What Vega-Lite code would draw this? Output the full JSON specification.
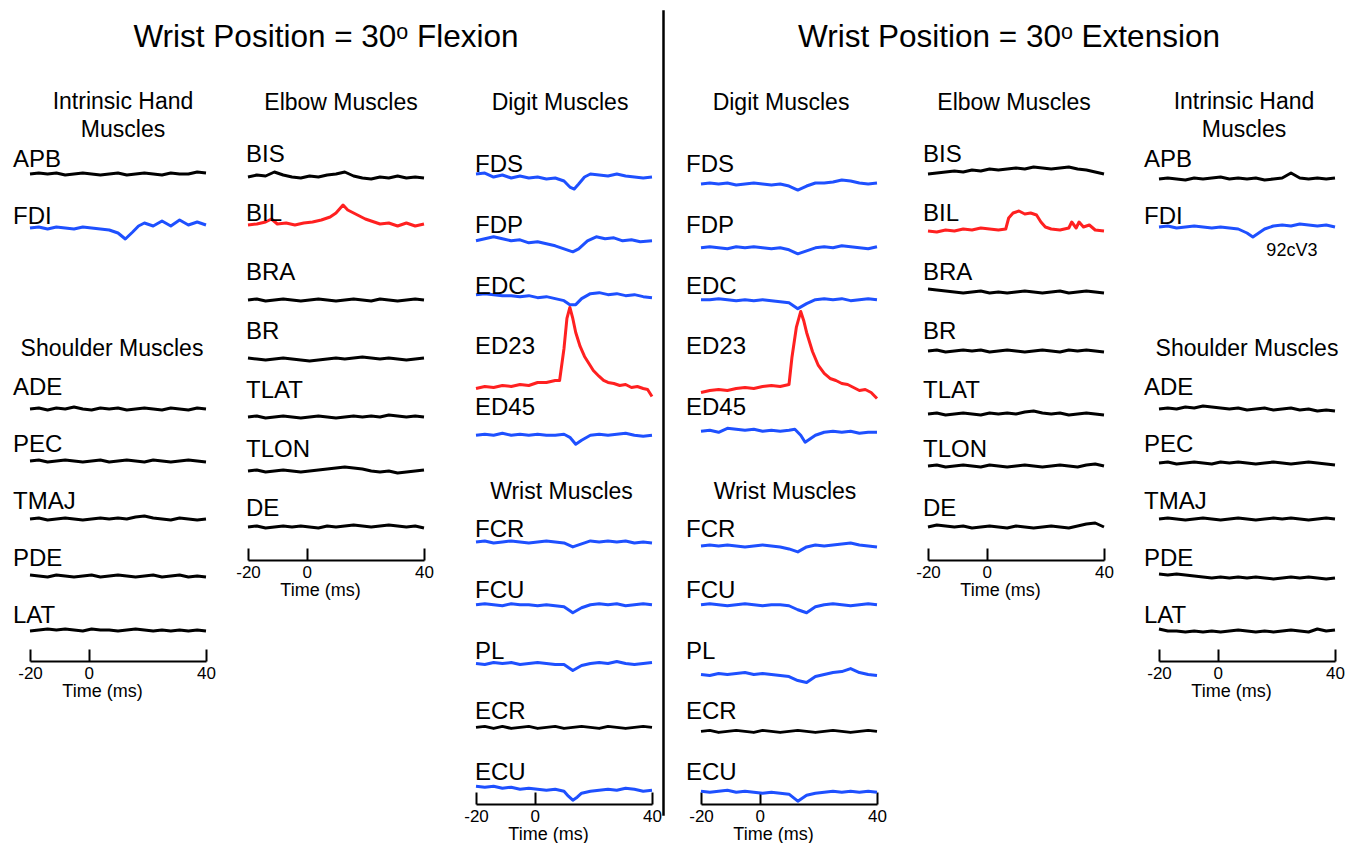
{
"$schema":"https://vega.github.io/schema/vega-lite/v6.json",
"background":"white",
"padding":{"left":13,"top":8,"right":0,"bottom":0},
"config":{
 "view":{"stroke":null},
 "font":"Liberation Sans",
 "title":{"font":"Liberation Sans","fontSize":23,"fontWeight":"normal","color":"#000","lineHeight":28,"anchor":"middle"},
 "text":{"font":"Liberation Sans","color":"#000"},
 "axisX":{"domainColor":"#000","domainWidth":2,"tickColor":"#000","tickWidth":2,"tickSize":-12,"labelFont":"Liberation Sans","labelFontSize":17,"labelColor":"#000","labelPadding":16,"labelFlush":false,"labelOverlap":false,"labelExpr":"'' + datum.value","titleFont":"Liberation Sans","titleFontSize":18,"titleFontWeight":"normal","titleColor":"#000","titlePadding":1,"titleX":72,"grid":false}
},
"datasets":{
"muscles":[
{"g":"Intrinsic Hand","m":"APB","e":"none"},{"g":"Intrinsic Hand","m":"FDI","e":"suppression"},
{"g":"Shoulder","m":"ADE","e":"none"},{"g":"Shoulder","m":"PEC","e":"none"},{"g":"Shoulder","m":"TMAJ","e":"none"},{"g":"Shoulder","m":"PDE","e":"none"},{"g":"Shoulder","m":"LAT","e":"none"},
{"g":"Elbow","m":"BIS","e":"none"},{"g":"Elbow","m":"BIL","e":"facilitation"},{"g":"Elbow","m":"BRA","e":"none"},{"g":"Elbow","m":"BR","e":"none"},{"g":"Elbow","m":"TLAT","e":"none"},{"g":"Elbow","m":"TLON","e":"none"},{"g":"Elbow","m":"DE","e":"none"},
{"g":"Digit","m":"FDS","e":"suppression"},{"g":"Digit","m":"FDP","e":"suppression"},{"g":"Digit","m":"EDC","e":"suppression"},{"g":"Digit","m":"ED23","e":"facilitation"},{"g":"Digit","m":"ED45","e":"suppression"},
{"g":"Wrist","m":"FCR","e":"suppression"},{"g":"Wrist","m":"FCU","e":"suppression"},{"g":"Wrist","m":"PL","e":"suppression"},{"g":"Wrist","m":"ECR","e":"none"},{"g":"Wrist","m":"ECU","e":"suppression"}
],
"headers":[{"m":"Shoulder Muscles"},{"m":"Wrist Muscles"}],
"notes":[{"m":"FDI","id":"92cV3"}],
"flex":[
{"m":"APB","t":-20,"v":3},{"m":"APB","t":-17,"v":4},{"m":"APB","t":-14,"v":3},{"m":"APB","t":-11,"v":4},{"m":"APB","t":-8,"v":2},{"m":"APB","t":-5,"v":3},{"m":"APB","t":-2,"v":4},{"m":"APB","t":1,"v":3},{"m":"APB","t":4,"v":2},{"m":"APB","t":7,"v":3},{"m":"APB","t":10,"v":4},{"m":"APB","t":13,"v":2},{"m":"APB","t":16,"v":3},{"m":"APB","t":19,"v":4},{"m":"APB","t":22,"v":3},{"m":"APB","t":25,"v":2},{"m":"APB","t":28,"v":4},{"m":"APB","t":31,"v":3},{"m":"APB","t":34,"v":3},{"m":"APB","t":37,"v":5},{"m":"APB","t":40,"v":4},
{"m":"FDI","t":-20,"v":6},{"m":"FDI","t":-17,"v":7},{"m":"FDI","t":-14,"v":5},{"m":"FDI","t":-11,"v":7},{"m":"FDI","t":-8,"v":6},{"m":"FDI","t":-5,"v":5},{"m":"FDI","t":-2,"v":7},{"m":"FDI","t":1,"v":6},{"m":"FDI","t":4,"v":5},{"m":"FDI","t":7,"v":4},{"m":"FDI","t":10,"v":1},{"m":"FDI","t":12.5,"v":-5},{"m":"FDI","t":15,"v":2},{"m":"FDI","t":17,"v":8},{"m":"FDI","t":19,"v":11},{"m":"FDI","t":22,"v":8},{"m":"FDI","t":25,"v":13},{"m":"FDI","t":28,"v":8},{"m":"FDI","t":31,"v":14},{"m":"FDI","t":34,"v":9},{"m":"FDI","t":37,"v":12},{"m":"FDI","t":40,"v":9},
{"m":"ADE","t":-20,"v":-4},{"m":"ADE","t":-17,"v":-3},{"m":"ADE","t":-14,"v":-5},{"m":"ADE","t":-11,"v":-3},{"m":"ADE","t":-8,"v":-4},{"m":"ADE","t":-5,"v":-2},{"m":"ADE","t":-2,"v":-4},{"m":"ADE","t":1,"v":-5},{"m":"ADE","t":4,"v":-3},{"m":"ADE","t":7,"v":-4},{"m":"ADE","t":10,"v":-3},{"m":"ADE","t":13,"v":-5},{"m":"ADE","t":16,"v":-4},{"m":"ADE","t":19,"v":-3},{"m":"ADE","t":22,"v":-4},{"m":"ADE","t":25,"v":-5},{"m":"ADE","t":28,"v":-3},{"m":"ADE","t":31,"v":-4},{"m":"ADE","t":34,"v":-5},{"m":"ADE","t":37,"v":-3},{"m":"ADE","t":40,"v":-4},
{"m":"PEC","t":-20,"v":1},{"m":"PEC","t":-17,"v":2},{"m":"PEC","t":-14,"v":0},{"m":"PEC","t":-11,"v":1},{"m":"PEC","t":-8,"v":2},{"m":"PEC","t":-5,"v":1},{"m":"PEC","t":-2,"v":0},{"m":"PEC","t":1,"v":1},{"m":"PEC","t":4,"v":2},{"m":"PEC","t":7,"v":0},{"m":"PEC","t":10,"v":1},{"m":"PEC","t":13,"v":2},{"m":"PEC","t":16,"v":1},{"m":"PEC","t":19,"v":0},{"m":"PEC","t":22,"v":2},{"m":"PEC","t":25,"v":1},{"m":"PEC","t":28,"v":0},{"m":"PEC","t":31,"v":1},{"m":"PEC","t":34,"v":2},{"m":"PEC","t":37,"v":1},{"m":"PEC","t":40,"v":0},
{"m":"TMAJ","t":-20,"v":0},{"m":"TMAJ","t":-17,"v":1},{"m":"TMAJ","t":-14,"v":-1},{"m":"TMAJ","t":-11,"v":0},{"m":"TMAJ","t":-8,"v":1},{"m":"TMAJ","t":-5,"v":0},{"m":"TMAJ","t":-2,"v":-1},{"m":"TMAJ","t":1,"v":0},{"m":"TMAJ","t":4,"v":1},{"m":"TMAJ","t":7,"v":0},{"m":"TMAJ","t":10,"v":1},{"m":"TMAJ","t":13,"v":0},{"m":"TMAJ","t":16,"v":2},{"m":"TMAJ","t":19,"v":3},{"m":"TMAJ","t":22,"v":1},{"m":"TMAJ","t":25,"v":0},{"m":"TMAJ","t":28,"v":-1},{"m":"TMAJ","t":31,"v":1},{"m":"TMAJ","t":34,"v":0},{"m":"TMAJ","t":37,"v":-1},{"m":"TMAJ","t":40,"v":0},
{"m":"PDE","t":-20,"v":1},{"m":"PDE","t":-17,"v":0},{"m":"PDE","t":-14,"v":-1},{"m":"PDE","t":-11,"v":1},{"m":"PDE","t":-8,"v":0},{"m":"PDE","t":-5,"v":-1},{"m":"PDE","t":-2,"v":0},{"m":"PDE","t":1,"v":1},{"m":"PDE","t":4,"v":-1},{"m":"PDE","t":7,"v":0},{"m":"PDE","t":10,"v":1},{"m":"PDE","t":13,"v":0},{"m":"PDE","t":16,"v":-1},{"m":"PDE","t":19,"v":0},{"m":"PDE","t":22,"v":1},{"m":"PDE","t":25,"v":-1},{"m":"PDE","t":28,"v":0},{"m":"PDE","t":31,"v":1},{"m":"PDE","t":34,"v":-1},{"m":"PDE","t":37,"v":0},{"m":"PDE","t":40,"v":-1},
{"m":"LAT","t":-20,"v":2},{"m":"LAT","t":-17,"v":3},{"m":"LAT","t":-14,"v":4},{"m":"LAT","t":-11,"v":3},{"m":"LAT","t":-8,"v":4},{"m":"LAT","t":-5,"v":3},{"m":"LAT","t":-2,"v":2},{"m":"LAT","t":1,"v":4},{"m":"LAT","t":4,"v":3},{"m":"LAT","t":7,"v":3},{"m":"LAT","t":10,"v":2},{"m":"LAT","t":13,"v":3},{"m":"LAT","t":16,"v":4},{"m":"LAT","t":19,"v":3},{"m":"LAT","t":22,"v":2},{"m":"LAT","t":25,"v":3},{"m":"LAT","t":28,"v":2},{"m":"LAT","t":31,"v":3},{"m":"LAT","t":34,"v":2},{"m":"LAT","t":37,"v":3},{"m":"LAT","t":40,"v":2},
{"m":"BIS","t":-20,"v":-5},{"m":"BIS","t":-17,"v":-3},{"m":"BIS","t":-14,"v":-4},{"m":"BIS","t":-11,"v":0},{"m":"BIS","t":-8,"v":-3},{"m":"BIS","t":-5,"v":-5},{"m":"BIS","t":-2,"v":-6},{"m":"BIS","t":1,"v":-4},{"m":"BIS","t":4,"v":-5},{"m":"BIS","t":7,"v":-3},{"m":"BIS","t":10,"v":-2},{"m":"BIS","t":13,"v":0},{"m":"BIS","t":16,"v":-4},{"m":"BIS","t":19,"v":-6},{"m":"BIS","t":22,"v":-7},{"m":"BIS","t":25,"v":-5},{"m":"BIS","t":28,"v":-6},{"m":"BIS","t":31,"v":-4},{"m":"BIS","t":34,"v":-6},{"m":"BIS","t":37,"v":-5},{"m":"BIS","t":40,"v":-6},
{"m":"BIL","t":-20,"v":6},{"m":"BIL","t":-17,"v":7},{"m":"BIL","t":-14,"v":9},{"m":"BIL","t":-12,"v":12},{"m":"BIL","t":-10,"v":7},{"m":"BIL","t":-7,"v":8},{"m":"BIL","t":-4,"v":6},{"m":"BIL","t":-1,"v":8},{"m":"BIL","t":2,"v":9},{"m":"BIL","t":5,"v":11},{"m":"BIL","t":8,"v":14},{"m":"BIL","t":10,"v":18},{"m":"BIL","t":12.4,"v":26},{"m":"BIL","t":14,"v":21},{"m":"BIL","t":16,"v":18},{"m":"BIL","t":18,"v":15},{"m":"BIL","t":20,"v":12},{"m":"BIL","t":22,"v":10},{"m":"BIL","t":25,"v":7},{"m":"BIL","t":28,"v":8},{"m":"BIL","t":31,"v":5},{"m":"BIL","t":34,"v":8},{"m":"BIL","t":37,"v":5},{"m":"BIL","t":40,"v":7},
{"m":"BRA","t":-20,"v":-10},{"m":"BRA","t":-17,"v":-9},{"m":"BRA","t":-14,"v":-11},{"m":"BRA","t":-11,"v":-10},{"m":"BRA","t":-8,"v":-9},{"m":"BRA","t":-5,"v":-10},{"m":"BRA","t":-2,"v":-11},{"m":"BRA","t":1,"v":-10},{"m":"BRA","t":4,"v":-9},{"m":"BRA","t":7,"v":-10},{"m":"BRA","t":10,"v":-11},{"m":"BRA","t":13,"v":-10},{"m":"BRA","t":16,"v":-9},{"m":"BRA","t":19,"v":-10},{"m":"BRA","t":22,"v":-11},{"m":"BRA","t":25,"v":-9},{"m":"BRA","t":28,"v":-10},{"m":"BRA","t":31,"v":-11},{"m":"BRA","t":34,"v":-10},{"m":"BRA","t":37,"v":-9},{"m":"BRA","t":40,"v":-10},
{"m":"BR","t":-20,"v":-9},{"m":"BR","t":-17,"v":-10},{"m":"BR","t":-14,"v":-11},{"m":"BR","t":-11,"v":-10},{"m":"BR","t":-8,"v":-9},{"m":"BR","t":-5,"v":-10},{"m":"BR","t":-2,"v":-11},{"m":"BR","t":1,"v":-12},{"m":"BR","t":4,"v":-11},{"m":"BR","t":7,"v":-10},{"m":"BR","t":10,"v":-9},{"m":"BR","t":13,"v":-10},{"m":"BR","t":16,"v":-9},{"m":"BR","t":19,"v":-8},{"m":"BR","t":22,"v":-9},{"m":"BR","t":25,"v":-10},{"m":"BR","t":28,"v":-9},{"m":"BR","t":31,"v":-10},{"m":"BR","t":34,"v":-11},{"m":"BR","t":37,"v":-10},{"m":"BR","t":40,"v":-9},
{"m":"TLAT","t":-20,"v":-9},{"m":"TLAT","t":-17,"v":-8},{"m":"TLAT","t":-14,"v":-10},{"m":"TLAT","t":-11,"v":-9},{"m":"TLAT","t":-8,"v":-8},{"m":"TLAT","t":-5,"v":-9},{"m":"TLAT","t":-2,"v":-10},{"m":"TLAT","t":1,"v":-9},{"m":"TLAT","t":4,"v":-8},{"m":"TLAT","t":7,"v":-9},{"m":"TLAT","t":10,"v":-10},{"m":"TLAT","t":13,"v":-9},{"m":"TLAT","t":16,"v":-8},{"m":"TLAT","t":19,"v":-9},{"m":"TLAT","t":22,"v":-8},{"m":"TLAT","t":25,"v":-9},{"m":"TLAT","t":28,"v":-7},{"m":"TLAT","t":31,"v":-8},{"m":"TLAT","t":34,"v":-9},{"m":"TLAT","t":37,"v":-8},{"m":"TLAT","t":40,"v":-9},
{"m":"TLON","t":-20,"v":-4},{"m":"TLON","t":-17,"v":-3},{"m":"TLON","t":-14,"v":-5},{"m":"TLON","t":-11,"v":-4},{"m":"TLON","t":-8,"v":-3},{"m":"TLON","t":-5,"v":-4},{"m":"TLON","t":-2,"v":-5},{"m":"TLON","t":1,"v":-4},{"m":"TLON","t":4,"v":-3},{"m":"TLON","t":7,"v":-2},{"m":"TLON","t":10,"v":-1},{"m":"TLON","t":13,"v":0},{"m":"TLON","t":16,"v":-1},{"m":"TLON","t":19,"v":-2},{"m":"TLON","t":22,"v":-4},{"m":"TLON","t":25,"v":-5},{"m":"TLON","t":28,"v":-4},{"m":"TLON","t":31,"v":-6},{"m":"TLON","t":34,"v":-5},{"m":"TLON","t":37,"v":-4},{"m":"TLON","t":40,"v":-3},
{"m":"DE","t":-20,"v":-1},{"m":"DE","t":-17,"v":0},{"m":"DE","t":-14,"v":-2},{"m":"DE","t":-11,"v":-1},{"m":"DE","t":-8,"v":0},{"m":"DE","t":-5,"v":-1},{"m":"DE","t":-2,"v":0},{"m":"DE","t":1,"v":-1},{"m":"DE","t":4,"v":-2},{"m":"DE","t":7,"v":0},{"m":"DE","t":10,"v":-1},{"m":"DE","t":13,"v":0},{"m":"DE","t":16,"v":1},{"m":"DE","t":19,"v":0},{"m":"DE","t":22,"v":-1},{"m":"DE","t":25,"v":0},{"m":"DE","t":28,"v":1},{"m":"DE","t":31,"v":0},{"m":"DE","t":34,"v":-1},{"m":"DE","t":37,"v":0},{"m":"DE","t":40,"v":-2},
{"m":"FDS","t":-20,"v":8},{"m":"FDS","t":-17,"v":9},{"m":"FDS","t":-14,"v":5},{"m":"FDS","t":-11,"v":7},{"m":"FDS","t":-8,"v":4},{"m":"FDS","t":-5,"v":6},{"m":"FDS","t":-2,"v":4},{"m":"FDS","t":1,"v":5},{"m":"FDS","t":4,"v":3},{"m":"FDS","t":7,"v":4},{"m":"FDS","t":10,"v":1},{"m":"FDS","t":12,"v":-5},{"m":"FDS","t":13.5,"v":-7},{"m":"FDS","t":15,"v":-2},{"m":"FDS","t":17,"v":5},{"m":"FDS","t":19,"v":8},{"m":"FDS","t":22,"v":7},{"m":"FDS","t":25,"v":6},{"m":"FDS","t":28,"v":8},{"m":"FDS","t":31,"v":6},{"m":"FDS","t":34,"v":5},{"m":"FDS","t":37,"v":4},{"m":"FDS","t":40,"v":5},
{"m":"FDP","t":-20,"v":2},{"m":"FDP","t":-17,"v":4},{"m":"FDP","t":-14,"v":6},{"m":"FDP","t":-11,"v":4},{"m":"FDP","t":-8,"v":2},{"m":"FDP","t":-5,"v":3},{"m":"FDP","t":-2,"v":0},{"m":"FDP","t":1,"v":1},{"m":"FDP","t":4,"v":-1},{"m":"FDP","t":7,"v":-3},{"m":"FDP","t":10,"v":-6},{"m":"FDP","t":13,"v":-9},{"m":"FDP","t":15,"v":-6},{"m":"FDP","t":18,"v":2},{"m":"FDP","t":21,"v":6},{"m":"FDP","t":24,"v":4},{"m":"FDP","t":27,"v":5},{"m":"FDP","t":30,"v":2},{"m":"FDP","t":33,"v":3},{"m":"FDP","t":36,"v":1},{"m":"FDP","t":40,"v":2},
{"m":"EDC","t":-20,"v":9},{"m":"EDC","t":-17,"v":10},{"m":"EDC","t":-14,"v":9},{"m":"EDC","t":-11,"v":8},{"m":"EDC","t":-8,"v":8},{"m":"EDC","t":-5,"v":7},{"m":"EDC","t":-2,"v":8},{"m":"EDC","t":1,"v":6},{"m":"EDC","t":4,"v":7},{"m":"EDC","t":7,"v":5},{"m":"EDC","t":10,"v":3},{"m":"EDC","t":12,"v":-1},{"m":"EDC","t":14,"v":-1},{"m":"EDC","t":16,"v":5},{"m":"EDC","t":19,"v":10},{"m":"EDC","t":22,"v":11},{"m":"EDC","t":25,"v":9},{"m":"EDC","t":28,"v":10},{"m":"EDC","t":31,"v":8},{"m":"EDC","t":34,"v":9},{"m":"EDC","t":37,"v":7},{"m":"EDC","t":40,"v":6},
{"m":"ED23","t":-20,"v":-24},{"m":"ED23","t":-17,"v":-22},{"m":"ED23","t":-14,"v":-23},{"m":"ED23","t":-11,"v":-21},{"m":"ED23","t":-8,"v":-22},{"m":"ED23","t":-5,"v":-20},{"m":"ED23","t":-2,"v":-21},{"m":"ED23","t":1,"v":-18},{"m":"ED23","t":4,"v":-18},{"m":"ED23","t":7,"v":-16},{"m":"ED23","t":8.5,"v":-16},{"m":"ED23","t":10,"v":16},{"m":"ED23","t":11,"v":46},{"m":"ED23","t":12,"v":57},{"m":"ED23","t":13,"v":46},{"m":"ED23","t":14,"v":32},{"m":"ED23","t":15.5,"v":18},{"m":"ED23","t":17,"v":8},{"m":"ED23","t":18.5,"v":1},{"m":"ED23","t":20,"v":-6},{"m":"ED23","t":22,"v":-12},{"m":"ED23","t":23.5,"v":-16},{"m":"ED23","t":25,"v":-18},{"m":"ED23","t":27,"v":-19},{"m":"ED23","t":29,"v":-21},{"m":"ED23","t":31,"v":-20},{"m":"ED23","t":33,"v":-23},{"m":"ED23","t":35,"v":-22},{"m":"ED23","t":37,"v":-24},{"m":"ED23","t":38.5,"v":-25},{"m":"ED23","t":40,"v":-32},
{"m":"ED45","t":-20,"v":-10},{"m":"ED45","t":-17,"v":-9},{"m":"ED45","t":-14,"v":-10},{"m":"ED45","t":-11,"v":-8},{"m":"ED45","t":-8,"v":-10},{"m":"ED45","t":-5,"v":-9},{"m":"ED45","t":-2,"v":-10},{"m":"ED45","t":1,"v":-9},{"m":"ED45","t":4,"v":-10},{"m":"ED45","t":7,"v":-10},{"m":"ED45","t":10,"v":-9},{"m":"ED45","t":12,"v":-12},{"m":"ED45","t":14,"v":-19},{"m":"ED45","t":16,"v":-15},{"m":"ED45","t":19,"v":-10},{"m":"ED45","t":22,"v":-9},{"m":"ED45","t":25,"v":-10},{"m":"ED45","t":28,"v":-9},{"m":"ED45","t":31,"v":-8},{"m":"ED45","t":34,"v":-10},{"m":"ED45","t":37,"v":-11},{"m":"ED45","t":40,"v":-10},
{"m":"FCR","t":-20,"v":5},{"m":"FCR","t":-17,"v":6},{"m":"FCR","t":-14,"v":4},{"m":"FCR","t":-11,"v":5},{"m":"FCR","t":-8,"v":6},{"m":"FCR","t":-5,"v":5},{"m":"FCR","t":-2,"v":4},{"m":"FCR","t":1,"v":5},{"m":"FCR","t":4,"v":6},{"m":"FCR","t":7,"v":5},{"m":"FCR","t":10,"v":4},{"m":"FCR","t":13,"v":0},{"m":"FCR","t":16,"v":3},{"m":"FCR","t":19,"v":6},{"m":"FCR","t":22,"v":5},{"m":"FCR","t":25,"v":6},{"m":"FCR","t":28,"v":5},{"m":"FCR","t":31,"v":6},{"m":"FCR","t":34,"v":4},{"m":"FCR","t":37,"v":5},{"m":"FCR","t":40,"v":4},
{"m":"FCU","t":-20,"v":3},{"m":"FCU","t":-17,"v":4},{"m":"FCU","t":-14,"v":3},{"m":"FCU","t":-11,"v":2},{"m":"FCU","t":-8,"v":4},{"m":"FCU","t":-5,"v":3},{"m":"FCU","t":-2,"v":3},{"m":"FCU","t":1,"v":2},{"m":"FCU","t":4,"v":3},{"m":"FCU","t":7,"v":2},{"m":"FCU","t":10,"v":1},{"m":"FCU","t":13,"v":-5},{"m":"FCU","t":16,"v":0},{"m":"FCU","t":19,"v":3},{"m":"FCU","t":22,"v":4},{"m":"FCU","t":25,"v":3},{"m":"FCU","t":28,"v":4},{"m":"FCU","t":31,"v":2},{"m":"FCU","t":34,"v":3},{"m":"FCU","t":37,"v":4},{"m":"FCU","t":40,"v":3},
{"m":"PL","t":-20,"v":5},{"m":"PL","t":-17,"v":4},{"m":"PL","t":-14,"v":6},{"m":"PL","t":-11,"v":5},{"m":"PL","t":-8,"v":6},{"m":"PL","t":-5,"v":4},{"m":"PL","t":-2,"v":5},{"m":"PL","t":1,"v":6},{"m":"PL","t":4,"v":5},{"m":"PL","t":7,"v":4},{"m":"PL","t":10,"v":4},{"m":"PL","t":13,"v":-2},{"m":"PL","t":16,"v":3},{"m":"PL","t":19,"v":5},{"m":"PL","t":22,"v":6},{"m":"PL","t":25,"v":5},{"m":"PL","t":28,"v":7},{"m":"PL","t":31,"v":5},{"m":"PL","t":34,"v":4},{"m":"PL","t":37,"v":5},{"m":"PL","t":40,"v":6},
{"m":"ECR","t":-20,"v":2},{"m":"ECR","t":-17,"v":3},{"m":"ECR","t":-14,"v":1},{"m":"ECR","t":-11,"v":3},{"m":"ECR","t":-8,"v":1},{"m":"ECR","t":-5,"v":2},{"m":"ECR","t":-2,"v":3},{"m":"ECR","t":1,"v":1},{"m":"ECR","t":4,"v":2},{"m":"ECR","t":7,"v":3},{"m":"ECR","t":10,"v":1},{"m":"ECR","t":13,"v":2},{"m":"ECR","t":16,"v":3},{"m":"ECR","t":19,"v":2},{"m":"ECR","t":22,"v":1},{"m":"ECR","t":25,"v":3},{"m":"ECR","t":28,"v":2},{"m":"ECR","t":31,"v":1},{"m":"ECR","t":34,"v":2},{"m":"ECR","t":37,"v":3},{"m":"ECR","t":40,"v":2},
{"m":"ECU","t":-20,"v":4},{"m":"ECU","t":-17,"v":3},{"m":"ECU","t":-14,"v":4},{"m":"ECU","t":-11,"v":2},{"m":"ECU","t":-8,"v":3},{"m":"ECU","t":-5,"v":1},{"m":"ECU","t":-2,"v":2},{"m":"ECU","t":1,"v":1},{"m":"ECU","t":4,"v":0},{"m":"ECU","t":7,"v":1},{"m":"ECU","t":10,"v":-1},{"m":"ECU","t":11.5,"v":-6},{"m":"ECU","t":13,"v":-10},{"m":"ECU","t":14.5,"v":-7},{"m":"ECU","t":16,"v":-3},{"m":"ECU","t":19,"v":-1},{"m":"ECU","t":22,"v":0},{"m":"ECU","t":25,"v":1},{"m":"ECU","t":28,"v":0},{"m":"ECU","t":31,"v":2},{"m":"ECU","t":34,"v":1},{"m":"ECU","t":37,"v":-1},{"m":"ECU","t":40,"v":0}
],
"ext":[
{"m":"FDS","t":-20,"v":-2},{"m":"FDS","t":-17,"v":-1},{"m":"FDS","t":-14,"v":-2},{"m":"FDS","t":-11,"v":-1},{"m":"FDS","t":-8,"v":-3},{"m":"FDS","t":-5,"v":-2},{"m":"FDS","t":-2,"v":-1},{"m":"FDS","t":1,"v":-2},{"m":"FDS","t":4,"v":-3},{"m":"FDS","t":7,"v":-2},{"m":"FDS","t":10,"v":-4},{"m":"FDS","t":13,"v":-8},{"m":"FDS","t":16,"v":-4},{"m":"FDS","t":19,"v":-1},{"m":"FDS","t":22,"v":-1},{"m":"FDS","t":25,"v":0},{"m":"FDS","t":28,"v":2},{"m":"FDS","t":31,"v":1},{"m":"FDS","t":34,"v":-1},{"m":"FDS","t":37,"v":-2},{"m":"FDS","t":40,"v":-1},
{"m":"FDP","t":-20,"v":-5},{"m":"FDP","t":-17,"v":-4},{"m":"FDP","t":-14,"v":-5},{"m":"FDP","t":-11,"v":-6},{"m":"FDP","t":-8,"v":-4},{"m":"FDP","t":-5,"v":-5},{"m":"FDP","t":-2,"v":-4},{"m":"FDP","t":1,"v":-5},{"m":"FDP","t":4,"v":-6},{"m":"FDP","t":7,"v":-5},{"m":"FDP","t":10,"v":-7},{"m":"FDP","t":13,"v":-11},{"m":"FDP","t":16,"v":-8},{"m":"FDP","t":19,"v":-5},{"m":"FDP","t":22,"v":-4},{"m":"FDP","t":25,"v":-5},{"m":"FDP","t":28,"v":-3},{"m":"FDP","t":31,"v":-4},{"m":"FDP","t":34,"v":-5},{"m":"FDP","t":37,"v":-6},{"m":"FDP","t":40,"v":-4},
{"m":"EDC","t":-20,"v":4},{"m":"EDC","t":-17,"v":4},{"m":"EDC","t":-14,"v":5},{"m":"EDC","t":-11,"v":4},{"m":"EDC","t":-8,"v":3},{"m":"EDC","t":-5,"v":4},{"m":"EDC","t":-2,"v":3},{"m":"EDC","t":1,"v":4},{"m":"EDC","t":4,"v":3},{"m":"EDC","t":7,"v":2},{"m":"EDC","t":10,"v":1},{"m":"EDC","t":13,"v":-5},{"m":"EDC","t":16,"v":0},{"m":"EDC","t":19,"v":4},{"m":"EDC","t":22,"v":5},{"m":"EDC","t":25,"v":4},{"m":"EDC","t":28,"v":5},{"m":"EDC","t":31,"v":3},{"m":"EDC","t":34,"v":4},{"m":"EDC","t":37,"v":5},{"m":"EDC","t":40,"v":4},
{"m":"ED23","t":-20,"v":-28},{"m":"ED23","t":-17,"v":-26},{"m":"ED23","t":-14,"v":-25},{"m":"ED23","t":-11,"v":-26},{"m":"ED23","t":-8,"v":-24},{"m":"ED23","t":-5,"v":-23},{"m":"ED23","t":-2,"v":-24},{"m":"ED23","t":1,"v":-22},{"m":"ED23","t":4,"v":-21},{"m":"ED23","t":7,"v":-22},{"m":"ED23","t":10,"v":-20},{"m":"ED23","t":11,"v":7},{"m":"ED23","t":12.5,"v":37},{"m":"ED23","t":14,"v":53},{"m":"ED23","t":15,"v":44},{"m":"ED23","t":16,"v":32},{"m":"ED23","t":18,"v":13},{"m":"ED23","t":20,"v":-1},{"m":"ED23","t":22,"v":-9},{"m":"ED23","t":24,"v":-14},{"m":"ED23","t":26,"v":-16},{"m":"ED23","t":28,"v":-19},{"m":"ED23","t":30,"v":-20},{"m":"ED23","t":32,"v":-23},{"m":"ED23","t":34,"v":-26},{"m":"ED23","t":36,"v":-25},{"m":"ED23","t":38,"v":-28},{"m":"ED23","t":40,"v":-34},
{"m":"ED45","t":-20,"v":-6},{"m":"ED45","t":-17,"v":-5},{"m":"ED45","t":-14,"v":-7},{"m":"ED45","t":-11,"v":-3},{"m":"ED45","t":-8,"v":-4},{"m":"ED45","t":-5,"v":-5},{"m":"ED45","t":-2,"v":-4},{"m":"ED45","t":1,"v":-6},{"m":"ED45","t":4,"v":-5},{"m":"ED45","t":7,"v":-6},{"m":"ED45","t":10,"v":-5},{"m":"ED45","t":12,"v":-4},{"m":"ED45","t":14,"v":-10},{"m":"ED45","t":15.5,"v":-17},{"m":"ED45","t":17,"v":-14},{"m":"ED45","t":19,"v":-10},{"m":"ED45","t":22,"v":-7},{"m":"ED45","t":25,"v":-6},{"m":"ED45","t":28,"v":-7},{"m":"ED45","t":31,"v":-6},{"m":"ED45","t":34,"v":-8},{"m":"ED45","t":37,"v":-7},{"m":"ED45","t":40,"v":-7},
{"m":"FCR","t":-20,"v":1},{"m":"FCR","t":-17,"v":2},{"m":"FCR","t":-14,"v":1},{"m":"FCR","t":-11,"v":2},{"m":"FCR","t":-8,"v":1},{"m":"FCR","t":-5,"v":0},{"m":"FCR","t":-2,"v":1},{"m":"FCR","t":1,"v":2},{"m":"FCR","t":4,"v":1},{"m":"FCR","t":7,"v":0},{"m":"FCR","t":10,"v":-2},{"m":"FCR","t":13,"v":-5},{"m":"FCR","t":16,"v":0},{"m":"FCR","t":19,"v":2},{"m":"FCR","t":22,"v":1},{"m":"FCR","t":25,"v":2},{"m":"FCR","t":28,"v":3},{"m":"FCR","t":31,"v":4},{"m":"FCR","t":34,"v":2},{"m":"FCR","t":37,"v":1},{"m":"FCR","t":40,"v":0},
{"m":"FCU","t":-20,"v":3},{"m":"FCU","t":-17,"v":4},{"m":"FCU","t":-14,"v":3},{"m":"FCU","t":-11,"v":2},{"m":"FCU","t":-8,"v":3},{"m":"FCU","t":-5,"v":4},{"m":"FCU","t":-2,"v":3},{"m":"FCU","t":1,"v":2},{"m":"FCU","t":4,"v":3},{"m":"FCU","t":7,"v":3},{"m":"FCU","t":10,"v":2},{"m":"FCU","t":13,"v":-2},{"m":"FCU","t":16,"v":-5},{"m":"FCU","t":19,"v":1},{"m":"FCU","t":22,"v":3},{"m":"FCU","t":25,"v":4},{"m":"FCU","t":28,"v":3},{"m":"FCU","t":31,"v":2},{"m":"FCU","t":34,"v":3},{"m":"FCU","t":37,"v":4},{"m":"FCU","t":40,"v":3},
{"m":"PL","t":-20,"v":-6},{"m":"PL","t":-17,"v":-7},{"m":"PL","t":-14,"v":-5},{"m":"PL","t":-11,"v":-6},{"m":"PL","t":-8,"v":-5},{"m":"PL","t":-5,"v":-4},{"m":"PL","t":-2,"v":-6},{"m":"PL","t":1,"v":-5},{"m":"PL","t":4,"v":-6},{"m":"PL","t":7,"v":-7},{"m":"PL","t":10,"v":-8},{"m":"PL","t":13,"v":-12},{"m":"PL","t":16,"v":-14},{"m":"PL","t":19,"v":-8},{"m":"PL","t":22,"v":-6},{"m":"PL","t":25,"v":-4},{"m":"PL","t":28,"v":-3},{"m":"PL","t":31,"v":0},{"m":"PL","t":34,"v":-4},{"m":"PL","t":37,"v":-6},{"m":"PL","t":40,"v":-7},
{"m":"ECR","t":-20,"v":-2},{"m":"ECR","t":-17,"v":-1},{"m":"ECR","t":-14,"v":-3},{"m":"ECR","t":-11,"v":-2},{"m":"ECR","t":-8,"v":-1},{"m":"ECR","t":-5,"v":-2},{"m":"ECR","t":-2,"v":-3},{"m":"ECR","t":1,"v":-1},{"m":"ECR","t":4,"v":-2},{"m":"ECR","t":7,"v":-3},{"m":"ECR","t":10,"v":-2},{"m":"ECR","t":13,"v":-1},{"m":"ECR","t":16,"v":-2},{"m":"ECR","t":19,"v":-3},{"m":"ECR","t":22,"v":-2},{"m":"ECR","t":25,"v":-1},{"m":"ECR","t":28,"v":-2},{"m":"ECR","t":31,"v":-3},{"m":"ECR","t":34,"v":-2},{"m":"ECR","t":37,"v":-1},{"m":"ECR","t":40,"v":-2},
{"m":"ECU","t":-20,"v":-1},{"m":"ECU","t":-17,"v":-2},{"m":"ECU","t":-14,"v":-1},{"m":"ECU","t":-11,"v":0},{"m":"ECU","t":-8,"v":-2},{"m":"ECU","t":-5,"v":-1},{"m":"ECU","t":-2,"v":-2},{"m":"ECU","t":1,"v":-3},{"m":"ECU","t":4,"v":-2},{"m":"ECU","t":7,"v":-3},{"m":"ECU","t":10,"v":-4},{"m":"ECU","t":13,"v":-11},{"m":"ECU","t":16,"v":-5},{"m":"ECU","t":19,"v":-3},{"m":"ECU","t":22,"v":-2},{"m":"ECU","t":25,"v":-1},{"m":"ECU","t":28,"v":-2},{"m":"ECU","t":31,"v":-1},{"m":"ECU","t":34,"v":-2},{"m":"ECU","t":37,"v":-1},{"m":"ECU","t":40,"v":-2},
{"m":"BIS","t":-20,"v":-2},{"m":"BIS","t":-17,"v":-1},{"m":"BIS","t":-14,"v":0},{"m":"BIS","t":-11,"v":1},{"m":"BIS","t":-8,"v":0},{"m":"BIS","t":-5,"v":2},{"m":"BIS","t":-2,"v":1},{"m":"BIS","t":1,"v":3},{"m":"BIS","t":4,"v":2},{"m":"BIS","t":7,"v":3},{"m":"BIS","t":10,"v":4},{"m":"BIS","t":13,"v":3},{"m":"BIS","t":16,"v":5},{"m":"BIS","t":19,"v":4},{"m":"BIS","t":22,"v":3},{"m":"BIS","t":25,"v":4},{"m":"BIS","t":28,"v":5},{"m":"BIS","t":31,"v":3},{"m":"BIS","t":34,"v":2},{"m":"BIS","t":37,"v":0},{"m":"BIS","t":40,"v":-2},
{"m":"BIL","t":-20,"v":0},{"m":"BIL","t":-17,"v":-1},{"m":"BIL","t":-14,"v":1},{"m":"BIL","t":-11,"v":0},{"m":"BIL","t":-8,"v":2},{"m":"BIL","t":-5,"v":1},{"m":"BIL","t":-2,"v":3},{"m":"BIL","t":1,"v":2},{"m":"BIL","t":4,"v":1},{"m":"BIL","t":6.5,"v":2},{"m":"BIL","t":7.5,"v":13},{"m":"BIL","t":9,"v":18},{"m":"BIL","t":11,"v":20},{"m":"BIL","t":13,"v":17},{"m":"BIL","t":15,"v":18},{"m":"BIL","t":17,"v":16},{"m":"BIL","t":18.5,"v":9},{"m":"BIL","t":20,"v":4},{"m":"BIL","t":22,"v":2},{"m":"BIL","t":25,"v":1},{"m":"BIL","t":28,"v":3},{"m":"BIL","t":29,"v":9},{"m":"BIL","t":30.5,"v":3},{"m":"BIL","t":31.5,"v":9},{"m":"BIL","t":33,"v":4},{"m":"BIL","t":35,"v":6},{"m":"BIL","t":37,"v":1},{"m":"BIL","t":40,"v":0},
{"m":"BRA","t":-20,"v":1},{"m":"BRA","t":-17,"v":0},{"m":"BRA","t":-14,"v":-1},{"m":"BRA","t":-11,"v":-2},{"m":"BRA","t":-8,"v":-3},{"m":"BRA","t":-5,"v":-2},{"m":"BRA","t":-2,"v":-1},{"m":"BRA","t":1,"v":-3},{"m":"BRA","t":4,"v":-2},{"m":"BRA","t":7,"v":-3},{"m":"BRA","t":10,"v":-2},{"m":"BRA","t":13,"v":-1},{"m":"BRA","t":16,"v":-2},{"m":"BRA","t":19,"v":-3},{"m":"BRA","t":22,"v":-2},{"m":"BRA","t":25,"v":-1},{"m":"BRA","t":28,"v":-3},{"m":"BRA","t":31,"v":-2},{"m":"BRA","t":34,"v":-1},{"m":"BRA","t":37,"v":-2},{"m":"BRA","t":40,"v":-3},
{"m":"BR","t":-20,"v":-2},{"m":"BR","t":-17,"v":-1},{"m":"BR","t":-14,"v":-3},{"m":"BR","t":-11,"v":-2},{"m":"BR","t":-8,"v":-1},{"m":"BR","t":-5,"v":-2},{"m":"BR","t":-2,"v":-1},{"m":"BR","t":1,"v":-3},{"m":"BR","t":4,"v":-2},{"m":"BR","t":7,"v":-1},{"m":"BR","t":10,"v":-2},{"m":"BR","t":13,"v":-3},{"m":"BR","t":16,"v":-2},{"m":"BR","t":19,"v":-1},{"m":"BR","t":22,"v":-2},{"m":"BR","t":25,"v":-3},{"m":"BR","t":28,"v":-1},{"m":"BR","t":31,"v":-2},{"m":"BR","t":34,"v":-1},{"m":"BR","t":37,"v":-2},{"m":"BR","t":40,"v":-3},
{"m":"TLAT","t":-20,"v":-6},{"m":"TLAT","t":-17,"v":-5},{"m":"TLAT","t":-14,"v":-7},{"m":"TLAT","t":-11,"v":-6},{"m":"TLAT","t":-8,"v":-5},{"m":"TLAT","t":-5,"v":-6},{"m":"TLAT","t":-2,"v":-7},{"m":"TLAT","t":1,"v":-5},{"m":"TLAT","t":4,"v":-6},{"m":"TLAT","t":7,"v":-5},{"m":"TLAT","t":10,"v":-6},{"m":"TLAT","t":13,"v":-4},{"m":"TLAT","t":16,"v":-3},{"m":"TLAT","t":19,"v":-5},{"m":"TLAT","t":22,"v":-6},{"m":"TLAT","t":25,"v":-5},{"m":"TLAT","t":28,"v":-7},{"m":"TLAT","t":31,"v":-6},{"m":"TLAT","t":34,"v":-5},{"m":"TLAT","t":37,"v":-6},{"m":"TLAT","t":40,"v":-7},
{"m":"TLON","t":-20,"v":1},{"m":"TLON","t":-17,"v":2},{"m":"TLON","t":-14,"v":0},{"m":"TLON","t":-11,"v":1},{"m":"TLON","t":-8,"v":2},{"m":"TLON","t":-5,"v":1},{"m":"TLON","t":-2,"v":0},{"m":"TLON","t":1,"v":2},{"m":"TLON","t":4,"v":1},{"m":"TLON","t":7,"v":0},{"m":"TLON","t":10,"v":1},{"m":"TLON","t":13,"v":2},{"m":"TLON","t":16,"v":1},{"m":"TLON","t":19,"v":0},{"m":"TLON","t":22,"v":1},{"m":"TLON","t":25,"v":2},{"m":"TLON","t":28,"v":1},{"m":"TLON","t":31,"v":0},{"m":"TLON","t":34,"v":2},{"m":"TLON","t":37,"v":3},{"m":"TLON","t":40,"v":1},
{"m":"DE","t":-20,"v":-1},{"m":"DE","t":-17,"v":1},{"m":"DE","t":-14,"v":0},{"m":"DE","t":-11,"v":-1},{"m":"DE","t":-8,"v":0},{"m":"DE","t":-5,"v":-2},{"m":"DE","t":-2,"v":-1},{"m":"DE","t":1,"v":0},{"m":"DE","t":4,"v":-1},{"m":"DE","t":7,"v":-2},{"m":"DE","t":10,"v":0},{"m":"DE","t":13,"v":-1},{"m":"DE","t":16,"v":-2},{"m":"DE","t":19,"v":-1},{"m":"DE","t":22,"v":0},{"m":"DE","t":25,"v":-1},{"m":"DE","t":28,"v":-2},{"m":"DE","t":31,"v":0},{"m":"DE","t":34,"v":2},{"m":"DE","t":37,"v":3},{"m":"DE","t":40,"v":-1},
{"m":"APB","t":-20,"v":-2},{"m":"APB","t":-17,"v":-1},{"m":"APB","t":-14,"v":-2},{"m":"APB","t":-11,"v":-3},{"m":"APB","t":-8,"v":-1},{"m":"APB","t":-5,"v":-2},{"m":"APB","t":-2,"v":-1},{"m":"APB","t":1,"v":0},{"m":"APB","t":4,"v":-2},{"m":"APB","t":7,"v":-1},{"m":"APB","t":10,"v":-2},{"m":"APB","t":13,"v":-1},{"m":"APB","t":16,"v":-3},{"m":"APB","t":19,"v":-2},{"m":"APB","t":22,"v":-1},{"m":"APB","t":25,"v":4},{"m":"APB","t":28,"v":-1},{"m":"APB","t":31,"v":-2},{"m":"APB","t":34,"v":-1},{"m":"APB","t":37,"v":-2},{"m":"APB","t":40,"v":-1},
{"m":"FDI","t":-20,"v":7},{"m":"FDI","t":-17,"v":8},{"m":"FDI","t":-14,"v":6},{"m":"FDI","t":-11,"v":7},{"m":"FDI","t":-8,"v":8},{"m":"FDI","t":-5,"v":7},{"m":"FDI","t":-2,"v":6},{"m":"FDI","t":1,"v":7},{"m":"FDI","t":4,"v":6},{"m":"FDI","t":7,"v":5},{"m":"FDI","t":10,"v":1},{"m":"FDI","t":12,"v":-3},{"m":"FDI","t":14,"v":1},{"m":"FDI","t":16,"v":5},{"m":"FDI","t":19,"v":8},{"m":"FDI","t":22,"v":9},{"m":"FDI","t":25,"v":8},{"m":"FDI","t":28,"v":10},{"m":"FDI","t":31,"v":9},{"m":"FDI","t":34,"v":8},{"m":"FDI","t":37,"v":9},{"m":"FDI","t":40,"v":7},
{"m":"ADE","t":-20,"v":-4},{"m":"ADE","t":-17,"v":-3},{"m":"ADE","t":-14,"v":-4},{"m":"ADE","t":-11,"v":-2},{"m":"ADE","t":-8,"v":-3},{"m":"ADE","t":-5,"v":-1},{"m":"ADE","t":-2,"v":-2},{"m":"ADE","t":1,"v":-3},{"m":"ADE","t":4,"v":-4},{"m":"ADE","t":7,"v":-3},{"m":"ADE","t":10,"v":-5},{"m":"ADE","t":13,"v":-4},{"m":"ADE","t":16,"v":-3},{"m":"ADE","t":19,"v":-5},{"m":"ADE","t":22,"v":-4},{"m":"ADE","t":25,"v":-3},{"m":"ADE","t":28,"v":-5},{"m":"ADE","t":31,"v":-4},{"m":"ADE","t":34,"v":-6},{"m":"ADE","t":37,"v":-5},{"m":"ADE","t":40,"v":-6},
{"m":"PEC","t":-20,"v":-1},{"m":"PEC","t":-17,"v":0},{"m":"PEC","t":-14,"v":-2},{"m":"PEC","t":-11,"v":-1},{"m":"PEC","t":-8,"v":0},{"m":"PEC","t":-5,"v":-1},{"m":"PEC","t":-2,"v":-2},{"m":"PEC","t":1,"v":0},{"m":"PEC","t":4,"v":-1},{"m":"PEC","t":7,"v":0},{"m":"PEC","t":10,"v":-1},{"m":"PEC","t":13,"v":-2},{"m":"PEC","t":16,"v":-1},{"m":"PEC","t":19,"v":0},{"m":"PEC","t":22,"v":-1},{"m":"PEC","t":25,"v":-2},{"m":"PEC","t":28,"v":-1},{"m":"PEC","t":31,"v":0},{"m":"PEC","t":34,"v":-1},{"m":"PEC","t":37,"v":-2},{"m":"PEC","t":40,"v":-3},
{"m":"TMAJ","t":-20,"v":0},{"m":"TMAJ","t":-17,"v":1},{"m":"TMAJ","t":-14,"v":0},{"m":"TMAJ","t":-11,"v":-1},{"m":"TMAJ","t":-8,"v":0},{"m":"TMAJ","t":-5,"v":1},{"m":"TMAJ","t":-2,"v":0},{"m":"TMAJ","t":1,"v":-1},{"m":"TMAJ","t":4,"v":0},{"m":"TMAJ","t":7,"v":1},{"m":"TMAJ","t":10,"v":0},{"m":"TMAJ","t":13,"v":-1},{"m":"TMAJ","t":16,"v":0},{"m":"TMAJ","t":19,"v":1},{"m":"TMAJ","t":22,"v":0},{"m":"TMAJ","t":25,"v":1},{"m":"TMAJ","t":28,"v":0},{"m":"TMAJ","t":31,"v":-1},{"m":"TMAJ","t":34,"v":0},{"m":"TMAJ","t":37,"v":1},{"m":"TMAJ","t":40,"v":0},
{"m":"PDE","t":-20,"v":2},{"m":"PDE","t":-17,"v":1},{"m":"PDE","t":-14,"v":2},{"m":"PDE","t":-11,"v":1},{"m":"PDE","t":-8,"v":0},{"m":"PDE","t":-5,"v":-1},{"m":"PDE","t":-2,"v":-2},{"m":"PDE","t":1,"v":-1},{"m":"PDE","t":4,"v":-2},{"m":"PDE","t":7,"v":-1},{"m":"PDE","t":10,"v":-2},{"m":"PDE","t":13,"v":-1},{"m":"PDE","t":16,"v":-2},{"m":"PDE","t":19,"v":-3},{"m":"PDE","t":22,"v":-2},{"m":"PDE","t":25,"v":-1},{"m":"PDE","t":28,"v":-2},{"m":"PDE","t":31,"v":-1},{"m":"PDE","t":34,"v":-2},{"m":"PDE","t":37,"v":-3},{"m":"PDE","t":40,"v":-2},
{"m":"LAT","t":-20,"v":4},{"m":"LAT","t":-17,"v":2},{"m":"LAT","t":-14,"v":2},{"m":"LAT","t":-11,"v":1},{"m":"LAT","t":-8,"v":2},{"m":"LAT","t":-5,"v":1},{"m":"LAT","t":-2,"v":2},{"m":"LAT","t":1,"v":1},{"m":"LAT","t":4,"v":2},{"m":"LAT","t":7,"v":3},{"m":"LAT","t":10,"v":2},{"m":"LAT","t":13,"v":1},{"m":"LAT","t":16,"v":2},{"m":"LAT","t":19,"v":1},{"m":"LAT","t":22,"v":2},{"m":"LAT","t":25,"v":3},{"m":"LAT","t":28,"v":2},{"m":"LAT","t":31,"v":1},{"m":"LAT","t":34,"v":4},{"m":"LAT","t":37,"v":2},{"m":"LAT","t":40,"v":3}
]
},
"hconcat":[
 {"hconcat":[
  {"vconcat":[
    {"width":592,"height":1,"data":{"name":"notes"},"mark":{"type":"point","opacity":0},"encoding":{},
     "title":{"text":"Wrist Position = 30ᵒ Flexion","orient":"bottom","fontSize":31.5,"offset":8,"frame":"group","anchor":"middle"}},
    {"hconcat":[
     {"hconcat":[
      {"width":176,"height":526,
       "title":{"text":["Intrinsic Hand","Muscles"],"offset":-7,"dx":5,"frame":"group"},
       "encoding":{"y":{"field":"m","type":"nominal","scale":{"type":"band","domain":["APB","FDI","_","Shoulder Muscles","ADE","PEC","TMAJ","PDE","LAT"],"paddingInner":0,"paddingOuter":0.114,"align":1},"axis":null}},
       "layer":[
        {"data":{"name":"flex"},"transform":[{"filter":{"field":"m","oneOf":["APB","FDI","ADE","PEC","TMAJ","PDE","LAT"]}}],
         "mark":{"type":"line","strokeWidth":3,"strokeJoin":"round"},
         "encoding":{"x":{"field":"t","type":"quantitative","scale":{"domain":[-20,40],"nice":false,"zero":false},"axis":{"values":[-20,0,40],"title":"Time (ms)"}},
          "yOffset":{"field":"v","type":"quantitative","scale":{"domain":[-28,29],"reverse":true,"nice":false,"zero":false}},
          "order":{"field":"t","type":"quantitative"},
          "color":{"field":"m","type":"nominal","scale":{"domain":["APB","FDI","ADE","PEC","TMAJ","PDE","LAT","BIS","BIL","BRA","BR","TLAT","TLON","DE","FDS","FDP","EDC","ED23","ED45","FCR","FCU","PL","ECR","ECU"],"range":["#000000","#1e50ff","#000000","#000000","#000000","#000000","#000000","#000000","#ff2020","#000000","#000000","#000000","#000000","#000000","#1e50ff","#1e50ff","#1e50ff","#ff2020","#1e50ff","#1e50ff","#1e50ff","#1e50ff","#000000","#1e50ff"]},"legend":null}}},
        {"data":{"name":"muscles"},"transform":[{"filter":{"field":"g","oneOf":["Intrinsic Hand","Shoulder"]}}],
         "mark":{"type":"text","align":"left","baseline":"alphabetic","fontSize":24,"dx":-17,"dy":-9.5},
         "encoding":{"x":{"datum":-20},"text":{"field":"m"}}},
        {"data":{"name":"headers"},"transform":[{"filter":{"field":"m","equal":"Shoulder Muscles"}}],
         "mark":{"type":"text","align":"center","baseline":"middle","fontSize":23,"dx":-6,"dy":1.5},
         "encoding":{"x":{"datum":10},"text":{"field":"m"}}}
       ]},
      {"width":176,"height":425,
       "title":{"text":"Elbow Muscles","offset":20,"dx":5,"frame":"group"},
       "encoding":{"y":{"field":"m","type":"nominal","scale":{"type":"band","domain":["BIS","BIL","BRA","BR","TLAT","TLON","DE"],"paddingInner":0,"paddingOuter":0.1017,"align":1},"axis":null}},
       "layer":[
        {"data":{"name":"flex"},"transform":[{"filter":{"field":"m","oneOf":["BIS","BIL","BRA","BR","TLAT","TLON","DE"]}}],
         "mark":{"type":"line","strokeWidth":3,"strokeJoin":"round"},
         "encoding":{"x":{"field":"t","type":"quantitative","scale":{"domain":[-20,40],"nice":false,"zero":false},"axis":{"values":[-20,0,40],"title":"Time (ms)"}},
          "yOffset":{"field":"v","type":"quantitative","scale":{"domain":[-34,25],"reverse":true,"nice":false,"zero":false}},
          "order":{"field":"t","type":"quantitative"},
          "color":{"field":"m","type":"nominal","scale":{"domain":["APB","FDI","ADE","PEC","TMAJ","PDE","LAT","BIS","BIL","BRA","BR","TLAT","TLON","DE","FDS","FDP","EDC","ED23","ED45","FCR","FCU","PL","ECR","ECU"],"range":["#000000","#1e50ff","#000000","#000000","#000000","#000000","#000000","#000000","#ff2020","#000000","#000000","#000000","#000000","#000000","#1e50ff","#1e50ff","#1e50ff","#ff2020","#1e50ff","#1e50ff","#1e50ff","#1e50ff","#000000","#1e50ff"]},"legend":null}}},
        {"data":{"name":"muscles"},"transform":[{"filter":{"field":"g","oneOf":["Elbow"]}}],
         "mark":{"type":"text","align":"left","baseline":"alphabetic","fontSize":24,"dx":-2,"dy":-14.5},
         "encoding":{"x":{"datum":-20},"text":{"field":"m"}}}
       ]}
     ],"spacing":19,"resolve":{"scale":{"yOffset":"independent"}}},
     {"width":176,"height":669,
      "title":{"text":"Digit Muscles","offset":20,"dx":-4,"frame":"group"},
      "encoding":{"y":{"field":"m","type":"nominal","scale":{"type":"band","domain":["FDS","FDP","EDC","ED23","ED45","Wrist Muscles","FCR","FCU","PL","ECR","ECU"],"paddingInner":0,"paddingOuter":0},"axis":null}},
      "layer":[
       {"data":{"name":"flex"},"transform":[{"filter":{"field":"m","oneOf":["FDS","FDP","EDC","ED23","ED45","FCR","FCU","PL","ECR","ECU"]}}],
        "mark":{"type":"line","strokeWidth":3,"strokeJoin":"round"},
        "encoding":{"x":{"field":"t","type":"quantitative","scale":{"domain":[-20,40],"nice":false,"zero":false},"axis":{"values":[-20,0,40],"title":"Time (ms)"}},
         "yOffset":{"field":"v","type":"quantitative","scale":{"domain":[-13.8,47],"reverse":true,"nice":false,"zero":false}},
         "order":{"field":"t","type":"quantitative"},
         "color":{"field":"m","type":"nominal","scale":{"domain":["APB","FDI","ADE","PEC","TMAJ","PDE","LAT","BIS","BIL","BRA","BR","TLAT","TLON","DE","FDS","FDP","EDC","ED23","ED45","FCR","FCU","PL","ECR","ECU"],"range":["#000000","#1e50ff","#000000","#000000","#000000","#000000","#000000","#000000","#ff2020","#000000","#000000","#000000","#000000","#000000","#1e50ff","#1e50ff","#1e50ff","#ff2020","#1e50ff","#1e50ff","#1e50ff","#1e50ff","#000000","#1e50ff"]},"legend":null}}},
       {"data":{"name":"muscles"},"transform":[{"filter":{"field":"g","oneOf":["Digit","Wrist"]}}],
        "mark":{"type":"text","align":"left","baseline":"alphabetic","fontSize":24,"dx":-1,"dy":6.6},
        "encoding":{"x":{"datum":-20},"text":{"field":"m"}}},
       {"data":{"name":"headers"},"transform":[{"filter":{"field":"m","equal":"Wrist Muscles"}}],
        "mark":{"type":"text","align":"center","baseline":"middle","fontSize":23,"dx":-2.5,"dy":22.5},
        "encoding":{"x":{"datum":10},"text":{"field":"m"}}}
      ]}
    ],"spacing":29,"resolve":{"scale":{"yOffset":"independent"}}}
  ],"spacing":37,"resolve":{"scale":{"yOffset":"independent"}}},
  {"width":1,"height":804,"view":{"stroke":"#000","strokeWidth":1.5},"data":{"name":"notes"},"mark":{"type":"point","opacity":0},"encoding":{}}
 ],"spacing":-2,"resolve":{"scale":{"yOffset":"independent"}}},
 {"vconcat":[
   {"width":616,"height":1,"data":{"name":"notes"},"mark":{"type":"point","opacity":0},"encoding":{},
    "title":{"text":"Wrist Position = 30ᵒ Extension","orient":"bottom","fontSize":31.5,"offset":8,"frame":"group","anchor":"middle"}},
   {"hconcat":[
    {"hconcat":[
      {"width":176,"height":669,
       "title":{"text":"Digit Muscles","offset":20,"dx":-8,"frame":"group"},
       "encoding":{"y":{"field":"m","type":"nominal","scale":{"type":"band","domain":["FDS","FDP","EDC","ED23","ED45","Wrist Muscles","FCR","FCU","PL","ECR","ECU"],"paddingInner":0,"paddingOuter":0},"axis":null}},
       "layer":[
        {"data":{"name":"ext"},"transform":[{"filter":{"field":"m","oneOf":["FDS","FDP","EDC","ED23","ED45","FCR","FCU","PL","ECR","ECU"]}}],
         "mark":{"type":"line","strokeWidth":3,"strokeJoin":"round"},
         "encoding":{"x":{"field":"t","type":"quantitative","scale":{"domain":[-20,40],"nice":false,"zero":false},"axis":{"values":[-20,0,40],"title":"Time (ms)"}},
          "yOffset":{"field":"v","type":"quantitative","scale":{"domain":[-13.8,47],"reverse":true,"nice":false,"zero":false}},
          "order":{"field":"t","type":"quantitative"},
          "color":{"field":"m","type":"nominal","scale":{"domain":["APB","FDI","ADE","PEC","TMAJ","PDE","LAT","BIS","BIL","BRA","BR","TLAT","TLON","DE","FDS","FDP","EDC","ED23","ED45","FCR","FCU","PL","ECR","ECU"],"range":["#000000","#1e50ff","#000000","#000000","#000000","#000000","#000000","#000000","#ff2020","#000000","#000000","#000000","#000000","#000000","#1e50ff","#1e50ff","#1e50ff","#ff2020","#1e50ff","#1e50ff","#1e50ff","#1e50ff","#000000","#1e50ff"]},"legend":null}}},
        {"data":{"name":"muscles"},"transform":[{"filter":{"field":"g","oneOf":["Digit","Wrist"]}}],
         "mark":{"type":"text","align":"left","baseline":"alphabetic","fontSize":24,"dx":-15,"dy":6.6},
         "encoding":{"x":{"datum":-20},"text":{"field":"m"}}},
        {"data":{"name":"headers"},"transform":[{"filter":{"field":"m","equal":"Wrist Muscles"}}],
         "mark":{"type":"text","align":"center","baseline":"middle","fontSize":23,"dx":-4,"dy":22.5},
         "encoding":{"x":{"datum":10},"text":{"field":"m"}}}
       ]},
      {"width":176,"height":425,
       "title":{"text":"Elbow Muscles","offset":20,"dx":-2,"frame":"group"},
       "encoding":{"y":{"field":"m","type":"nominal","scale":{"type":"band","domain":["BIS","BIL","BRA","BR","TLAT","TLON","DE"],"paddingInner":0,"paddingOuter":0.1017,"align":1},"axis":null}},
       "layer":[
        {"data":{"name":"ext"},"transform":[{"filter":{"field":"m","oneOf":["BIS","BIL","BRA","BR","TLAT","TLON","DE"]}}],
         "mark":{"type":"line","strokeWidth":3,"strokeJoin":"round"},
         "encoding":{"x":{"field":"t","type":"quantitative","scale":{"domain":[-20,40],"nice":false,"zero":false},"axis":{"values":[-20,0,40],"title":"Time (ms)"}},
          "yOffset":{"field":"v","type":"quantitative","scale":{"domain":[-34,25],"reverse":true,"nice":false,"zero":false}},
          "order":{"field":"t","type":"quantitative"},
          "color":{"field":"m","type":"nominal","scale":{"domain":["APB","FDI","ADE","PEC","TMAJ","PDE","LAT","BIS","BIL","BRA","BR","TLAT","TLON","DE","FDS","FDP","EDC","ED23","ED45","FCR","FCU","PL","ECR","ECU"],"range":["#000000","#1e50ff","#000000","#000000","#000000","#000000","#000000","#000000","#ff2020","#000000","#000000","#000000","#000000","#000000","#1e50ff","#1e50ff","#1e50ff","#ff2020","#1e50ff","#1e50ff","#1e50ff","#1e50ff","#000000","#1e50ff"]},"legend":null}}},
        {"data":{"name":"muscles"},"transform":[{"filter":{"field":"g","oneOf":["Elbow"]}}],
         "mark":{"type":"text","align":"left","baseline":"alphabetic","fontSize":24,"dx":-5,"dy":-14.5},
         "encoding":{"x":{"datum":-20},"text":{"field":"m"}}}
       ]}
     ],"spacing":28,"resolve":{"scale":{"yOffset":"independent"}}},
    {"width":176,"height":526,
     "title":{"text":["Intrinsic Hand","Muscles"],"offset":-7,"dx":-3,"frame":"group"},
     "encoding":{"y":{"field":"m","type":"nominal","scale":{"type":"band","domain":["APB","FDI","_","Shoulder Muscles","ADE","PEC","TMAJ","PDE","LAT"],"paddingInner":0,"paddingOuter":0.114,"align":1},"axis":null}},
     "layer":[
      {"data":{"name":"ext"},"transform":[{"filter":{"field":"m","oneOf":["APB","FDI","ADE","PEC","TMAJ","PDE","LAT"]}}],
       "mark":{"type":"line","strokeWidth":3,"strokeJoin":"round"},
       "encoding":{"x":{"field":"t","type":"quantitative","scale":{"domain":[-20,40],"nice":false,"zero":false},"axis":{"values":[-20,0,40],"title":"Time (ms)"}},
        "yOffset":{"field":"v","type":"quantitative","scale":{"domain":[-28,29],"reverse":true,"nice":false,"zero":false}},
        "order":{"field":"t","type":"quantitative"},
        "color":{"field":"m","type":"nominal","scale":{"domain":["APB","FDI","ADE","PEC","TMAJ","PDE","LAT","BIS","BIL","BRA","BR","TLAT","TLON","DE","FDS","FDP","EDC","ED23","ED45","FCR","FCU","PL","ECR","ECU"],"range":["#000000","#1e50ff","#000000","#000000","#000000","#000000","#000000","#000000","#ff2020","#000000","#000000","#000000","#000000","#000000","#1e50ff","#1e50ff","#1e50ff","#ff2020","#1e50ff","#1e50ff","#1e50ff","#1e50ff","#000000","#1e50ff"]},"legend":null}}},
      {"data":{"name":"muscles"},"transform":[{"filter":{"field":"g","oneOf":["Intrinsic Hand","Shoulder"]}}],
       "mark":{"type":"text","align":"left","baseline":"alphabetic","fontSize":24,"dx":-15,"dy":-9.5},
       "encoding":{"x":{"datum":-20},"text":{"field":"m"}}},
      {"data":{"name":"headers"},"transform":[{"filter":{"field":"m","equal":"Shoulder Muscles"}}],
       "mark":{"type":"text","align":"center","baseline":"middle","fontSize":23,"dx":0,"dy":1.5},
       "encoding":{"x":{"datum":10},"text":{"field":"m"}}},
      {"data":{"name":"notes"},
       "mark":{"type":"text","align":"center","baseline":"alphabetic","fontSize":18,"dy":22.5},
       "encoding":{"x":{"datum":25.3},"text":{"field":"id"}}}
     ]}
   ],"spacing":30,"resolve":{"scale":{"yOffset":"independent"}}}
 ],"spacing":37,"resolve":{"scale":{"yOffset":"independent"}}}
],
"spacing":19,
"resolve":{"scale":{"yOffset":"independent"}}
}
